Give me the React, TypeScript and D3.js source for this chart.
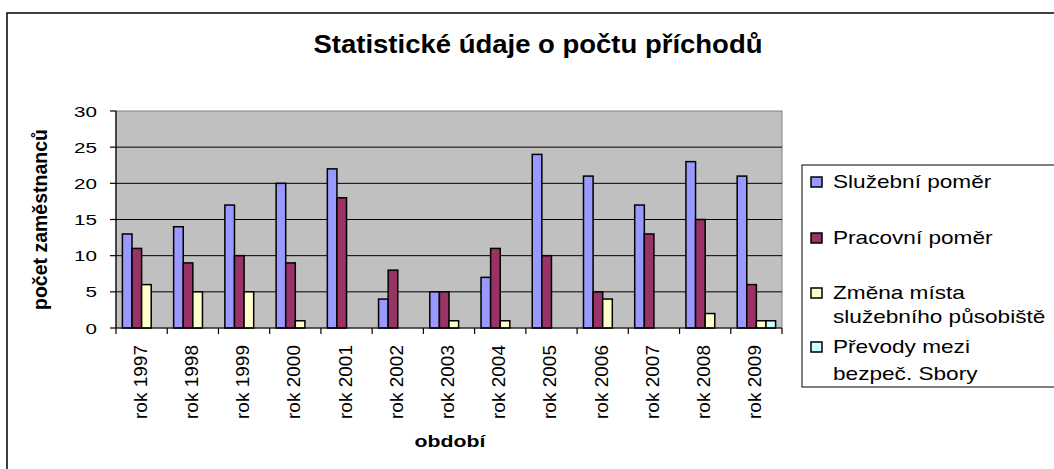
import React from "react";
import * as d3 from "d3";

const years = ["rok 1997", "rok 1998", "rok 1999", "rok 2000", "rok 2001", "rok 2002", "rok 2003", "rok 2004", "rok 2005", "rok 2006", "rok 2007", "rok 2008", "rok 2009"];
const seriesNames = ["Služební poměr", "Pracovní poměr", "Změna místa služebního působiště", "Převody mezi bezpeč. Sbory"];
const sluzebni = [13, 14, 17, 20, 22, 4, 5, 7, 24, 21, 17, 23, 21];
const pracovni = [11, 9, 10, 9, 18, 8, 5, 11, 10, 5, 13, 15, 6];
const zmena = [6, 5, 5, 1, 0, 0, 1, 1, 0, 4, 0, 2, 1];
const prevody = [0, 0, 0, 0, 0, 0, 0, 0, 0, 0, 0, 0, 1];
const yTicks = [0, 5, 10, 15, 20, 25, 30];
const colors = ["#9999ff", "#993366", "#ffffcc", "#ccffff"];
const legendLines = [["Služební poměr"], ["Pracovní poměr"], ["Změna místa", "služebního působiště"], ["Převody mezi", "bezpeč. Sbory"]];

const W = 1054;
const H = 469;
const plot = { left: 116, right: 782, top: 111, bottom: 328 };
const font = "'Liberation Sans', Arial, sans-serif";

function SText({ x, y, sx = 1, children, ...rest }: any) {
  return (
    <text transform={`translate(${x},${y}) scale(${sx},1)`} fontFamily={font} {...rest}>
      {children}
    </text>
  );
}

export default function App() {
  const allSeries = [sluzebni, pracovni, zmena, prevody];

  const x0 = d3
    .scaleBand()
    .domain(years)
    .range([plot.left, plot.right])
    .paddingInner(0.25)
    .paddingOuter(0.125);

  const x1 = d3
    .scaleBand()
    .domain(seriesNames)
    .range([0, x0.bandwidth()]);

  const y = d3.scaleLinear().domain([0, 30]).range([plot.bottom, plot.top]);

  const step = x0.step();
  const boundaries = d3.range(years.length + 1).map(i => plot.left + i * step);

  const legendRows = [
    { swatch: 177, base: [188] },
    { swatch: 233, base: [244] },
    { swatch: 288, base: [299, 323] },
    { swatch: 342, base: [353, 380] }
  ];

  return (
    <svg width={W} height={H} style={{ position: "absolute", left: 0, top: 0, background: "#fff" }}>
      {/* rámeček grafu */}
      <rect x={7} y={13} width={1070} height={480} fill="#fff" stroke="#000" strokeWidth={1.5} />

      {/* titulek */}
      <SText x={538} y={53} sx={1.1} textAnchor="middle" fontSize={25} fontWeight="bold">
        Statistické údaje o počtu příchodů
      </SText>

      {/* plocha */}
      <rect x={plot.left} y={plot.top} width={plot.right - plot.left} height={plot.bottom - plot.top} fill="#c0c0c0" stroke="#808080" strokeWidth={1} />

      {/* mřížka */}
      {yTicks.filter(t => t > 0 && t < 30).map(t => (
        <line key={t} x1={plot.left} x2={plot.right} y1={y(t)} y2={y(t)} stroke="#000" strokeWidth={1} />
      ))}

      {/* sloupce */}
      {years.map((yr, i) => (
        <g key={yr} transform={`translate(${x0(yr)},0)`}>
          {allSeries.map((s, j) =>
            s[i] > 0 ? (
              <rect
                key={j}
                x={x1(seriesNames[j])}
                y={y(s[i])}
                width={x1.bandwidth()}
                height={y(0) - y(s[i])}
                fill={colors[j]}
                stroke="#000"
                strokeWidth={1.5}
              />
            ) : null
          )}
        </g>
      ))}

      {/* osa Y */}
      <line x1={plot.left} x2={plot.left} y1={plot.top} y2={plot.bottom} stroke="#000" strokeWidth={1.2} />
      {yTicks.map(t => (
        <g key={t}>
          <line x1={plot.left - 6} x2={plot.left} y1={y(t)} y2={y(t)} stroke="#000" strokeWidth={1.2} />
          <SText x={97} y={y(t) + 5.5} sx={1.33} textAnchor="end" fontSize={15.5}>
            {t}
          </SText>
        </g>
      ))}

      {/* osa X */}
      <line x1={plot.left} x2={plot.right} y1={plot.bottom} y2={plot.bottom} stroke="#000" strokeWidth={1.2} />
      {boundaries.map((b, i) => (
        <line key={i} x1={b} x2={b} y1={plot.bottom} y2={plot.bottom + 6} stroke="#000" strokeWidth={1.2} />
      ))}
      {years.map(yr => (
        <text
          key={yr}
          transform={`translate(${(x0(yr) as number) + x0.bandwidth() / 2 + 5},345) rotate(-90)`}
          textAnchor="end"
          fontFamily={font}
          fontSize={19}
        >
          {yr}
        </text>
      ))}

      {/* popisky os */}
      <text
        transform={`translate(47,${(plot.top + plot.bottom) / 2}) rotate(-90)`}
        textAnchor="middle"
        fontFamily={font}
        fontSize={19.5}
        fontWeight="bold"
      >
        počet zaměstnanců
      </text>
      <SText x={450} y={447} sx={1.25} textAnchor="middle" fontSize={17} fontWeight="bold">
        období
      </SText>

      {/* legenda */}
      <rect x={802} y={165} width={300} height={222} fill="#fff" stroke="#000" strokeWidth={1} />
      {legendLines.map((lines, i) => (
        <g key={i}>
          <rect x={811} y={legendRows[i].swatch} width={11} height={10} fill={colors[i]} stroke="#000" strokeWidth={1.5} />
          {lines.map((ln, k) => (
            <SText key={k} x={833} y={legendRows[i].base[k]} sx={1.19} fontSize={19}>
              {ln}
            </SText>
          ))}
        </g>
      ))}
    </svg>
  );
}
